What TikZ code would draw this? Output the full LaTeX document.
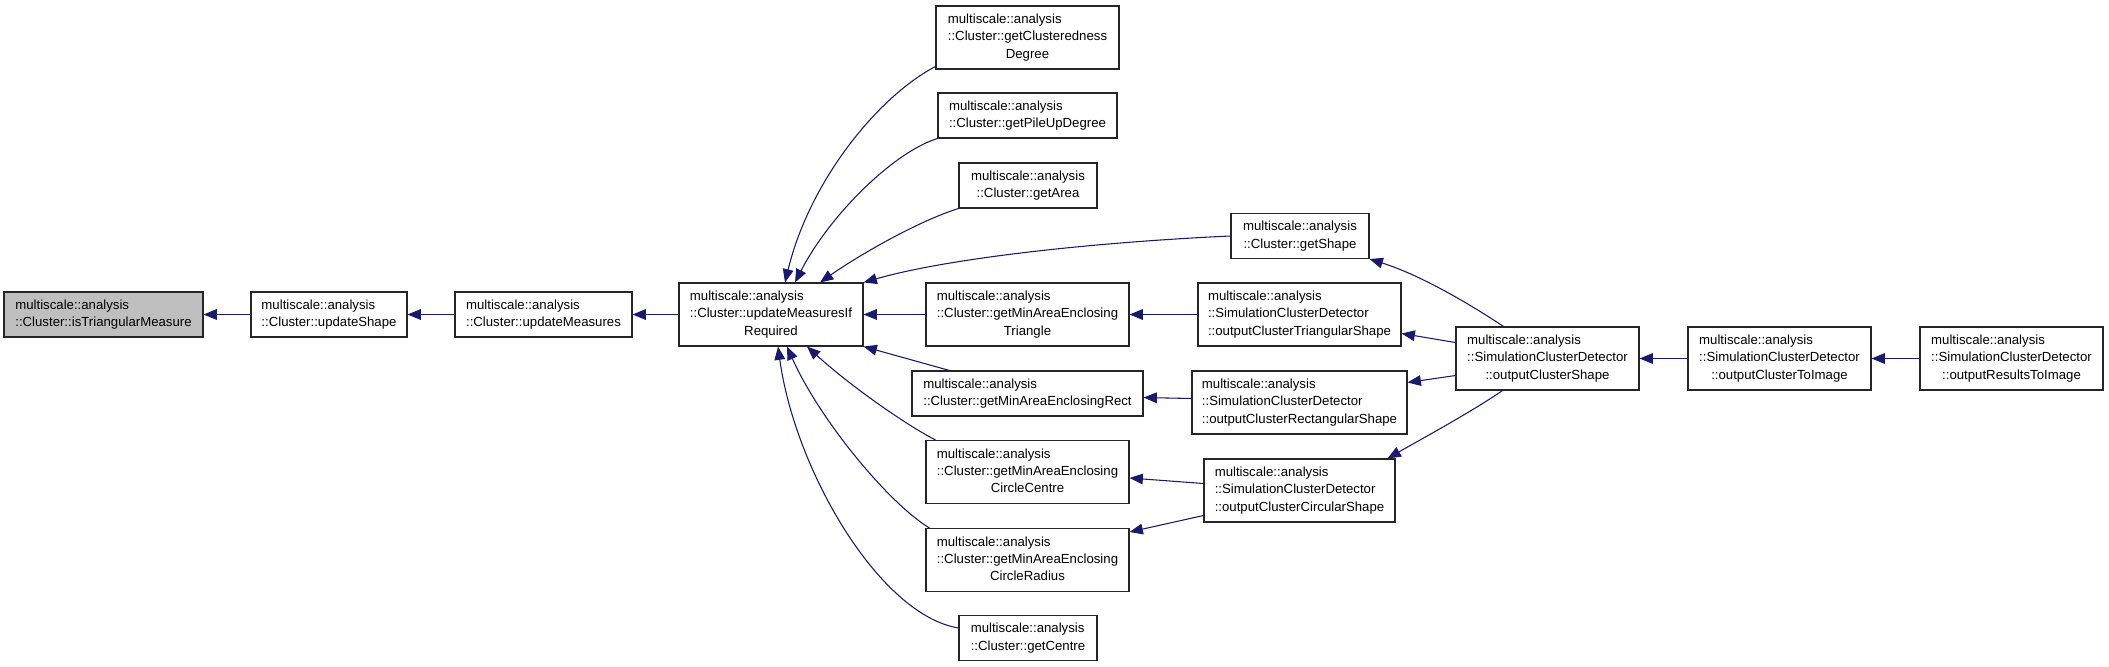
\documentclass[tikz,border=0pt]{standalone}
\usepackage{fontspec}
\setmainfont{Liberation Sans}
\usepackage{tikz}
\usetikzlibrary{calc,arrows.meta}
\definecolor{edgeblue}{HTML}{191970}
\newcommand{\calltwo}[2]{\begin{tabular}{@{}l@{}}#1\\\multicolumn{1}{@{}c@{}}{#2}\end{tabular}}
\newcommand{\callthree}[3]{\begin{tabular}{@{}l@{}}#1\\#2\\\multicolumn{1}{@{}c@{}}{#3}\end{tabular}}
\tikzset{
  fn/.style={rectangle,draw=black!85,line width=0.8pt,fill=white,inner sep=0pt,
    font=\fontsize{9.9}{13}\selectfont,minimum width=#1*0.75pt},
  two/.style={minimum height=33.75pt},
  three/.style={minimum height=47.25pt},
  cur/.style={fill=black!25},
  call/.style={draw=edgeblue,line width=0.8pt,-{Triangle[length=10pt,width=8pt]}}
}

\begin{document}
\begin{tikzpicture}[x=0.75pt,y=-0.75pt]
\useasboundingbox (0,0) rectangle (2109,667);
\node[fn=199,two,cur] (tri) at (103.5,314.5) {\calltwo{multiscale::analysis}{::Cluster::isTriangularMeasure}};
\node[fn=156,two] (upd) at (329,314.5) {\calltwo{multiscale::analysis}{::Cluster::updateShape}};
\node[fn=177,two] (umeas) at (543.5,314.5) {\calltwo{multiscale::analysis}{::Cluster::updateMeasures}};
\node[fn=184,three] (umir) at (771,314.5) {\callthree{multiscale::analysis}{::Cluster::updateMeasuresIf}{Required}};
\node[fn=183,three] (gcd) at (1027.5,37.5) {\callthree{multiscale::analysis}{::Cluster::getClusteredness}{Degree}};
\node[fn=179,two] (gpud) at (1027.5,115.5) {\calltwo{multiscale::analysis}{::Cluster::getPileUpDegree}};
\node[fn=138,two] (garea) at (1028,185.5) {\calltwo{multiscale::analysis}{::Cluster::getArea}};
\node[fn=138,two] (gshape) at (1300,236) {\calltwo{multiscale::analysis}{::Cluster::getShape}};
\node[fn=203,three] (gtri) at (1027.5,314.5) {\callthree{multiscale::analysis}{::Cluster::getMinAreaEnclosing}{Triangle}};
\node[fn=231,two] (grect) at (1027.5,393.5) {\calltwo{multiscale::analysis}{::Cluster::getMinAreaEnclosingRect}};
\node[fn=203,three] (gccentre) at (1027.5,472) {\callthree{multiscale::analysis}{::Cluster::getMinAreaEnclosing}{CircleCentre}};
\node[fn=203,three] (gcradius) at (1027.5,560) {\callthree{multiscale::analysis}{::Cluster::getMinAreaEnclosing}{CircleRadius}};
\node[fn=138,two] (gcentre) at (1028,638) {\calltwo{multiscale::analysis}{::Cluster::getCentre}};
\node[fn=203,three] (otri) at (1299.5,314.5) {\callthree{multiscale::analysis}{::SimulationClusterDetector}{::outputClusterTriangularShape}};
\node[fn=215,three] (orect) at (1299.5,402.5) {\callthree{multiscale::analysis}{::SimulationClusterDetector}{::outputClusterRectangularShape}};
\node[fn=191,three] (ocirc) at (1299.5,490.5) {\callthree{multiscale::analysis}{::SimulationClusterDetector}{::outputClusterCircularShape}};
\node[fn=183,three] (oshape) at (1547.5,358.5) {\callthree{multiscale::analysis}{::SimulationClusterDetector}{::outputClusterShape}};
\node[fn=183,three] (oimg) at (1779.5,358.5) {\callthree{multiscale::analysis}{::SimulationClusterDetector}{::outputClusterToImage}};
\node[fn=183,three] (ores) at (2011.5,358.5) {\callthree{multiscale::analysis}{::SimulationClusterDetector}{::outputResultsToImage}};
\draw[call] (upd.west) -- (tri.east);
\draw[call] (umeas.west) -- (upd.east);
\draw[call] (umir.west) -- (umeas.east);
\draw[call] ($(gcd.south west)+(0,-3)$) .. controls +(-56,29) and +(25,-103) .. ($(umir.north)+(14,0)$);
\draw[call] (gpud.south west) .. controls +(-43,13) and +(35,-68) .. ($(umir.north)+(24,0)$);
\draw[call] (garea.south west) .. controls +(-39,12) and +(40,-28) .. ($(umir.north)+(49,0)$);
\draw[call] (gshape.west) .. controls +(-131,6) and +(87,-25) .. (umir.north east);
\draw[call] (gtri.west) -- (umir.east);
\draw[call] ($(grect.north west)+(38,0)$) -- (umir.south east);
\draw[call] ($(gccentre.north west)+(10,0)$) .. controls +(-31,-16) and +(43,39) .. ($(umir.south)+(36,0)$);
\draw[call] ($(gcradius.north west)+(4,0)$) .. controls +(-40,-24) and +(33,74) .. ($(umir.south)+(16,0)$);
\draw[call] ($(gcentre.west)+(0,-10)$) .. controls +(-79,-13) and +(17,124) .. ($(umir.south)+(7,0)$);
\draw[call] (otri.west) -- (gtri.east);
\draw[call] ($(orect.west)+(0,-4)$) -- ($(grect.east)+(0,4)$);
\draw[call] ($(ocirc.west)+(0,-7)$) -- ($(gccentre.east)+(0,6)$);
\draw[call] ($(ocirc.west)+(0,25)$) -- ($(gcradius.east)+(0,-28)$);
\draw[call] ($(oshape.north)+(-44,0)$) .. controls +(-33,-22) and +(51,16) .. (gshape.south east);
\draw[call] ($(oshape.west)+(0,-16)$) -- ($(otri.east)+(0,19)$);
\draw[call] ($(oshape.west)+(0,17)$) -- ($(orect.east)+(0,-20)$);
\draw[call] ($(oshape.south)+(-45,0)$) .. controls +(-32,22) and +(33,-19) .. ($(ocirc.north east)+(-8,0)$);
\draw[call] (oimg.west) -- (oshape.east);
\draw[call] (ores.west) -- (oimg.east);
\end{tikzpicture}
\end{document}
